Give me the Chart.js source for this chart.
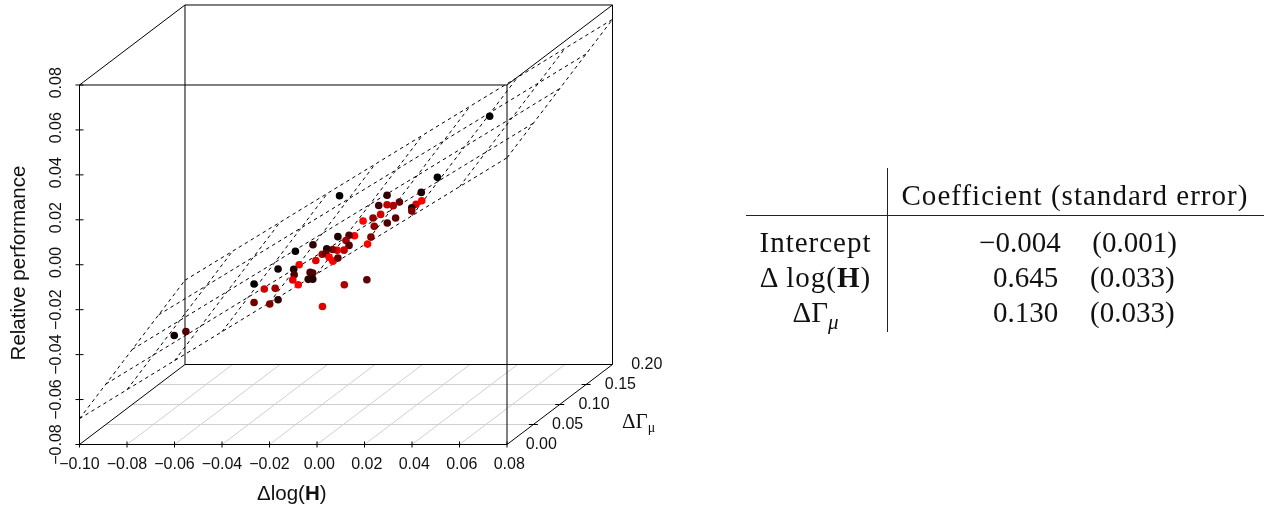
<!DOCTYPE html>
<html>
<head>
<meta charset="utf-8">
<script src="https://cdn.jsdelivr.net/npm/chart.js@4"></script>
<style>
	html, body { margin: 0; padding: 0; background: #fff; }
	#wrap { position: relative; width: 1267px; height: 508px; overflow: hidden; }
	canvas { position: absolute; left: 0; top: 0; }
	#table { position: absolute; left: 0; top: 0; width: 1267px; height: 508px; font-family: 'Liberation Serif', serif; font-size: 29px; color: #111; }
	#table div { position: absolute; white-space: nowrap; line-height: 32px; }
	#table sub { font-size: 21px; line-height: 0; }
</style>
</head>
<body>
<div id="wrap">
	<canvas id="chart" width="1267" height="508"></canvas>
	<div id="table"></div>
</div>
<script>
const xTicks = [-0.10, -0.08, -0.06, -0.04, -0.02, 0.00, 0.02, 0.04, 0.06, 0.08];
const yTicks = [-0.08, -0.06, -0.04, -0.02, 0.00, 0.02, 0.04, 0.06, 0.08];
const gammaTicks = [0.00, 0.05, 0.10, 0.15, 0.20];

// points as seen on the front face of the box, red channel of each dot
const pointX = [0.0727, 0.0507, 0.0095, 0.0295, 0.0439, 0.0347, 0.0441, 0.0417, 0.0399, 0.0399, 0.0260, 0.0295, 0.0321, 0.0268, 0.0236, 0.0194, 0.0331, 0.0296, 0.0241, 0.0227, 0.0213, 0.0158, 0.0135, 0.0088, 0.0122, 0.0135, 0.0114, 0.0085, 0.0066, 0.0041, 0.0022, 0.0038, 0.0051, 0.0067, 0.0088, -0.0005, -0.0017, -0.0091, -0.0075, -0.0164, -0.0098, -0.0096, -0.0102, -0.0079, -0.0029, -0.0018, -0.0037, -0.0018, -0.0265, -0.0222, -0.0176, -0.0265, -0.0199, -0.0164, 0.0023, 0.0115, 0.0210, -0.0601, -0.0552];
const pointY = [0.0661, 0.0389, 0.0307, 0.0309, 0.0322, 0.0279, 0.0285, 0.0269, 0.0254, 0.0239, 0.0264, 0.0267, 0.0263, 0.0224, 0.0208, 0.0195, 0.0208, 0.0186, 0.0171, 0.0123, 0.0092, 0.0129, 0.0131, 0.0125, 0.0108, 0.0086, 0.0065, 0.0064, 0.0068, 0.0071, 0.0047, 0.0049, 0.0033, 0.0016, 0.0030, 0.0019, 0.0089, 0.0060, 0.0000, -0.0019, -0.0020, -0.0045, -0.0068, -0.0089, -0.0034, -0.0037, -0.0065, -0.0064, -0.0086, -0.0108, -0.0105, -0.0168, -0.0175, -0.0156, -0.0186, -0.0089, -0.0067, -0.0315, -0.0297];
const pointRed = [0, 0, 0, 48, 32, 96, 255, 224, 32, 128, 64, 192, 176, 208, 144, 255, 96, 80, 144, 128, 255, 255, 80, 32, 160, 80, 192, 224, 128, 32, 160, 96, 255, 255, 96, 224, 48, 0, 255, 16, 32, 80, 224, 255, 80, 80, 48, 32, 0, 208, 160, 112, 128, 48, 224, 176, 96, 16, 80];

// fitted plane: [gamma, height at x=-0.10, height at x=0.08]
const planeAlongX = [[0.00, -0.0685, 0.0476], [0.05, -0.0620, 0.0541], [0.10, -0.0555, 0.0606], [0.15, -0.0490, 0.0671], [0.20, -0.0425, 0.0736]];
// fitted plane: [x, height at gamma=0, height at gamma=0.20]
const planeAlongGamma = [[-0.10, -0.0685, -0.0425], [-0.08, -0.0556, -0.0296], [-0.06, -0.0427, -0.0167], [-0.04, -0.0298, -0.0038], [-0.02, -0.0169, 0.0091], [0.00, -0.0040, 0.0220], [0.02, 0.0089, 0.0349], [0.04, 0.0218, 0.0478], [0.06, 0.0347, 0.0607], [0.08, 0.0476, 0.0736]];

const rowLabels = ['Intercept', '&Delta;&#8201;log(<b>H</b>)', '&Delta;&Gamma;<sub><i>&mu;</i></sub>'];
const coefficients = ['\u22120.004', '0.645', '0.130'];
const errors = ['(0.001)', '(0.033)', '(0.033)'];

const xMin = -0.10, xEnd = 0.08, yMin = -0.08, yEnd = 0.08, gammaEnd = 0.20;
// oblique projection of the gamma axis onto the page
const depthX = 0.2221, depthY = 0.17802;
const project = (x, gamma, z) => ({ x: x + gamma * depthX, y: z + gamma * depthY });
const format = v => v.toFixed(2).replace('-', '\u2212');
const tickLabel = v => (v < 0 ? '' : ' ') + format(v);
const font = '16px "Liberation Sans"';

const line = (from, to, color, width, dash) => ({
	data: [from, to],
	showLine: true,
	pointRadius: 0,
	borderColor: color,
	borderWidth: width,
	borderDash: dash || [],
	clip: false
});

const datasets = [{
	data: pointX.map((x, i) => ({ x: x, y: pointY[i] })),
	pointRadius: 3.8,
	pointBorderWidth: 0,
	pointBackgroundColor: pointRed.map(r => 'rgb(' + r + ',0,0)'),
	clip: false
}];
const dashed = [3.5, 3.5];
planeAlongX.forEach(p => {
	datasets.push(line(project(xMin, p[0], p[1]), project(xEnd, p[0], p[2]), '#000', 1, dashed));
});
planeAlongGamma.forEach(p => {
	datasets.push(line(project(p[0], 0, p[1]), project(p[0], gammaEnd, p[2]), '#000', 1, dashed));
});
// box edges
[
	[[xMin, 0, yMin], [xMin, 0, yEnd]],
	[[xMin, 0, yEnd], [xEnd, 0, yEnd]],
	[[xEnd, 0, yMin], [xEnd, 0, yEnd]],
	[[xMin, 0, yMin], [xEnd, 0, yMin]],
	[[xMin, gammaEnd, yMin], [xMin, gammaEnd, yEnd]],
	[[xMin, gammaEnd, yEnd], [xEnd, gammaEnd, yEnd]],
	[[xEnd, gammaEnd, yMin], [xEnd, gammaEnd, yEnd]],
	[[xMin, gammaEnd, yMin], [xEnd, gammaEnd, yMin]],
	[[xMin, 0, yMin], [xMin, gammaEnd, yMin]],
	[[xMin, 0, yEnd], [xMin, gammaEnd, yEnd]],
	[[xEnd, 0, yMin], [xEnd, gammaEnd, yMin]],
	[[xEnd, 0, yEnd], [xEnd, gammaEnd, yEnd]]
].forEach(e => {
	datasets.push(line(project(...e[0]), project(...e[1]), '#000', 1));
});
// floor grid
xTicks.slice(1, -1).forEach(x => {
	datasets.push(line(project(x, 0, yMin), project(x, gammaEnd, yMin), '#cfcfcf', 1));
});
gammaTicks.slice(1, -1).forEach(g => {
	datasets.push(line(project(xMin, g, yMin), project(xEnd, g, yMin), '#cfcfcf', 1));
});

const overlay = {
	id: 'overlay',
	afterDatasetsDraw(chart) {
		const ctx = chart.ctx;
		const sx = chart.scales.x, sy = chart.scales.y;
		const stroke = (x1, y1, x2, y2) => {
			ctx.beginPath();
			ctx.moveTo(x1, y1);
			ctx.lineTo(x2, y2);
			ctx.stroke();
		};
		ctx.save();
		ctx.strokeStyle = '#000';
		ctx.lineWidth = 1;
		const floorY = sy.getPixelForValue(yMin);
		const frontX = sx.getPixelForValue(xMin);
		xTicks.forEach(v => {
			const px = sx.getPixelForValue(v);
			stroke(px, floorY - 3, px, floorY + 3);
		});
		yTicks.forEach(v => {
			const py = sy.getPixelForValue(v);
			stroke(frontX - 4, py, frontX + 4, py);
		});
		ctx.fillStyle = '#111';
		ctx.font = font;
		ctx.textBaseline = 'middle';
		ctx.textAlign = 'left';
		gammaTicks.forEach(g => {
			const p = project(xEnd, g, yMin);
			const px = sx.getPixelForValue(p.x), py = sy.getPixelForValue(p.y);
			if (g > 0 && g < gammaEnd) {
				stroke(px - 4.5, py, px + 4.5, py);
			}
			ctx.fillText(format(g), px + 18.7, py);
		});
		// axis titles
		ctx.textBaseline = 'alphabetic';
		ctx.font = '21px "Liberation Serif"';
		ctx.fillText('\u0394\u0393', 622, 428);
		let w = ctx.measureText('\u0394\u0393').width;
		ctx.font = '14px "Liberation Serif"';
		ctx.fillText('\u03bc', 622 + w, 432);
		let tx = 257;
		[['\u0394log(', '20.5px "Liberation Sans"'], ['H', 'bold 20.5px "Liberation Sans"'], [')', '20.5px "Liberation Sans"']].forEach(part => {
			ctx.font = part[1];
			ctx.fillText(part[0], tx, 500);
			tx += ctx.measureText(part[0]).width;
		});
		ctx.font = '20.5px "Liberation Sans"';
		ctx.translate(24.5, 263);
		ctx.rotate(-Math.PI / 2);
		ctx.textAlign = 'center';
		ctx.fillText('Relative performance', 0, 0);
		ctx.restore();
	}
};

new Chart('chart', {
	type: 'scatter',
	data: { datasets: datasets },
	options: {
		responsive: false,
		animation: false,
		layout: { padding: { left: 0, top: 5, right: 654.5, bottom: 0 } },
		plugins: { legend: { display: false }, tooltip: { enabled: false } },
		scales: {
			x: {
				type: 'linear',
				min: xMin,
				max: -0.10 + 533 / 2375,
				grid: { display: false, drawTicks: false },
				border: { display: false },
				afterBuildTicks: axis => { axis.ticks = xTicks.map(v => ({ value: v })); },
				afterFit: axis => {
					axis.height = 63.5;
					axis.paddingLeft = 0;
					axis.paddingRight = 0;
				},
				ticks: {
					autoSkip: false,
					maxRotation: 0,
					padding: 10,
					color: '#111',
					font: { family: 'Liberation Sans', size: 16 },
					callback: v => tickLabel(v)
				}
			},
			y: {
				type: 'linear',
				min: yMin,
				max: -0.08 + 439.5 / 2246.9,
				grid: { display: false, drawTicks: false },
				border: { display: false },
				afterBuildTicks: axis => { axis.ticks = yTicks.map(v => ({ value: v })); },
				afterFit: axis => {
					axis.width = 79.5;
					axis.paddingTop = 0;
					axis.paddingBottom = 0;
				},
				ticks: {
					autoSkip: false,
					minRotation: 90,
					maxRotation: 90,
					crossAlign: 'center',
					padding: 2.5,
					color: '#111',
					font: { family: 'Liberation Sans', size: 16 },
					callback: v => tickLabel(v)
				}
			}
		}
	},
	plugins: [overlay]
});

const table = document.getElementById('table');
const place = (html, style) => {
	const cell = document.createElement('div');
	cell.innerHTML = html;
	cell.style.cssText = style;
	table.appendChild(cell);
};
place('', 'left:887px;top:168px;width:1px;height:164px;background:#222');
place('', 'left:745.5px;top:215px;width:518px;height:1px;background:#222');
place('Coefficient (standard error)', 'left:901.5px;top:179px;letter-spacing:1.02px');
rowLabels.forEach((label, i) => {
	const top = 226 + i * 35;
	place(label, 'left:745.5px;width:140px;text-align:center;letter-spacing:' + (i === 2 ? 0 : 1) + 'px;top:' + top + 'px');
	place(coefficients[i], 'right:' + (1267 - (i === 0 ? 1060.7 : 1058.3)) + 'px;top:' + top + 'px');
	place(errors[i], 'left:' + (i === 0 ? 1092.3 : 1090) + 'px;top:' + top + 'px');
});
</script>
</body>
</html>
